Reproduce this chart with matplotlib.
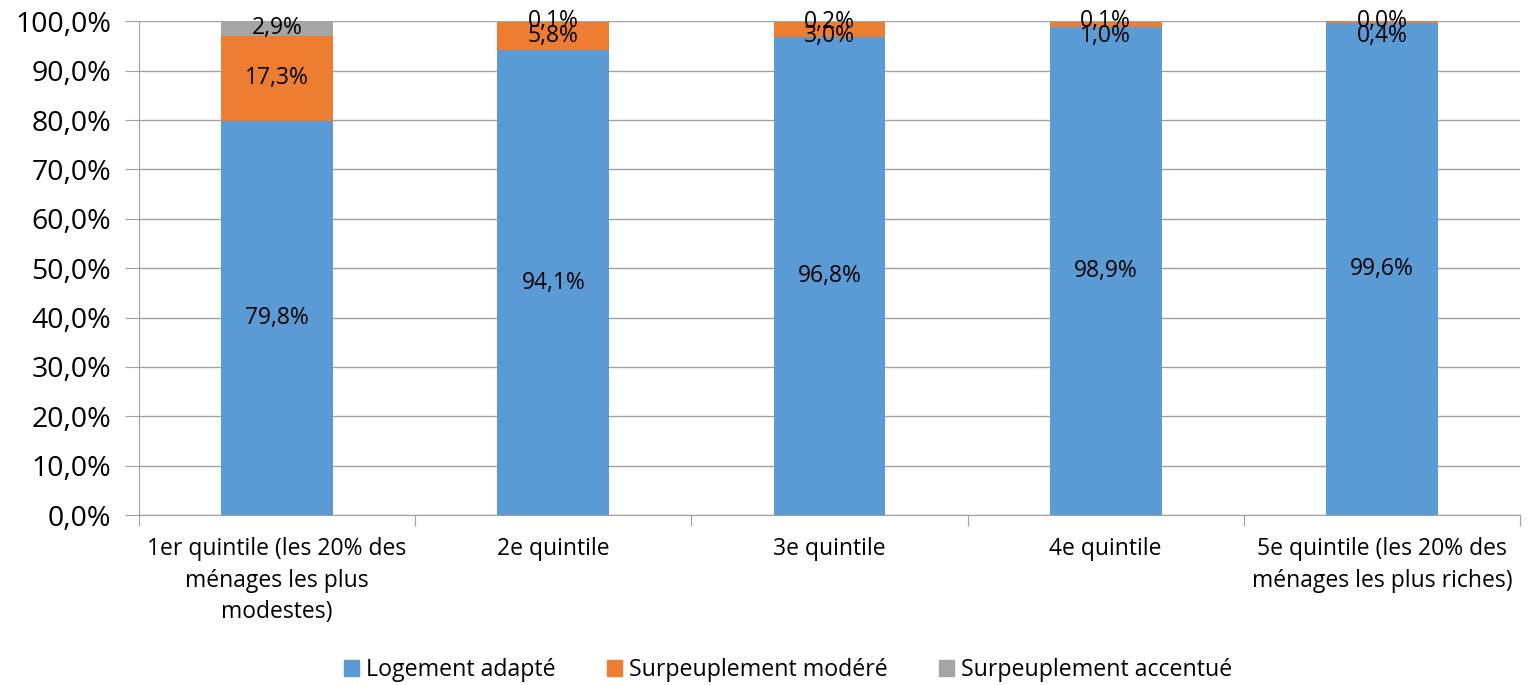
import matplotlib
matplotlib.use("Agg")
import matplotlib.pyplot as plt
from matplotlib.patches import Patch

plt.rcParams['font.family'] = ['Open Sans', 'DejaVu Sans']

categories = ["1er quintile (les 20% des\nménages les plus\nmodestes)", "2e quintile", "3e quintile",
              "4e quintile", "5e quintile (les 20% des\nménages les plus riches)"]
series_names = ["Logement adapté", "Surpeuplement modéré", "Surpeuplement accentué"]
adapte = [79.8, 94.1, 96.8, 98.9, 99.6]
modere = [17.3, 5.8, 3.0, 1.0, 0.4]
accentue = [2.9, 0.1, 0.2, 0.1, 0.0]
colors = ["#5B9BD5", "#ED7D31", "#A5A5A5"]
yticks = [0, 10, 20, 30, 40, 50, 60, 70, 80, 90, 100]

fig = plt.figure(figsize=(15.3, 6.85), dpi=100)
ax = fig.add_axes([0.0908, 0.248, 0.9027, 0.721])

def fmt(v):
    return f"{v:.1f}%".replace('.', ',')

x = list(range(len(categories)))
b1 = adapte
b2 = [a + m for a, m in zip(adapte, modere)]
ax.bar(x, adapte, width=0.405, color=colors[0], zorder=3)
ax.bar(x, modere, width=0.405, bottom=b1, color=colors[1], zorder=3)
ax.bar(x, accentue, width=0.405, bottom=b2, color=colors[2], zorder=3)

min_sep = 2.9  # minimal label separation in data units (like Excel's nudging)
lab_fs = 16.5
for xi in x:
    y_a = adapte[xi] / 2
    y_g = b2[xi] + accentue[xi] / 2
    y_o = min(b1[xi] + modere[xi] / 2, y_g - min_sep)
    ax.text(xi, y_a, fmt(adapte[xi]), ha='center', va='center', fontsize=lab_fs, zorder=4)
    ax.text(xi, y_o, fmt(modere[xi]), ha='center', va='center', fontsize=lab_fs, zorder=4)
    ax.text(xi, y_g, fmt(accentue[xi]), ha='center', va='center', fontsize=lab_fs, zorder=4)

ax.set_xlim(-0.5, 4.5)
ax.set_ylim(0, 100)
ax.set_yticks(yticks)
ax.set_yticklabels([fmt(t) for t in yticks], fontsize=20.5)
ax.yaxis.grid(True, color='#A0A0A0', linewidth=1, zorder=0)
ax.tick_params(axis='y', length=10, color='#A0A0A0', pad=10)

ax.set_xticks([i - 0.5 for i in range(len(categories) + 1)])
ax.set_xticklabels([])
ax.set_xticks(x, minor=True)
ax.set_xticklabels(categories, minor=True, fontsize=16.5, linespacing=1.4)
ax.tick_params(axis='x', which='major', length=8, color='#A0A0A0', direction='out')
ax.tick_params(axis='x', which='minor', length=0, pad=16)

for s in ['top', 'right']:
    ax.spines[s].set_visible(False)
for s in ['left', 'bottom']:
    ax.spines[s].set_color('#A0A0A0')

handles = [Patch(color=c, label=n) for c, n in zip(colors, series_names)]
fig.legend(handles=handles, loc='center', bbox_to_anchor=(0.515, 0.022), ncol=3, frameon=False,
           fontsize=16.7, handlelength=0.65, handleheight=0.65, handletextpad=0.3, columnspacing=2.2)

fig.savefig("out.png", dpi=100)
